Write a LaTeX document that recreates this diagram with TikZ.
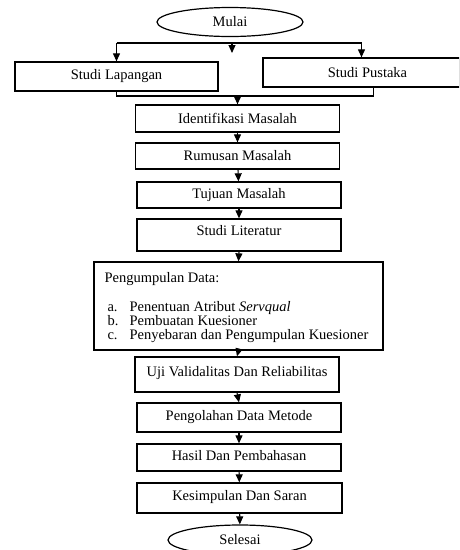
\documentclass[tikz,border=0pt]{standalone}
\usepackage{fontspec}
\setmainfont{Liberation Serif}
\usetikzlibrary{shapes.geometric,arrows.meta,calc}
\begin{document}
\begin{tikzpicture}[x=1pt,y=-1pt,
  font=\fontsize{14.5}{15}\selectfont,
  box/.style={draw, line width=1.3pt, rectangle, inner sep=0pt},
  oval/.style={draw, line width=1.2pt, ellipse, inner sep=0pt},
  arr/.style={line width=1.1pt, -{Triangle[length=8pt,width=7pt]}},
  ln/.style={line width=1.1pt}]
\useasboundingbox (0,0) rectangle (459,550);
\clip (0,0) rectangle (459,550);
\fill[white] (0,0) rectangle (459,550);
% nodes
\node[oval, minimum width=146pt, minimum height=29pt] (mulai) at (230,22) {Mulai};
\node[box, minimum width=203pt, minimum height=29pt] (lap) at (116.5,76.5) {Studi Lapangan};
\node[box, minimum width=197pt, minimum height=29pt] (pus) at (361.5,72.5) {\hspace*{12pt}Studi Pustaka};
\node[box, minimum width=204pt, minimum height=27pt] (idm) at (237.5,118.5) {Identifikasi Masalah};
\node[box, minimum width=204pt, minimum height=26pt] (rum) at (237.5,156) {Rumusan Masalah};
\node[box, minimum width=204pt, minimum height=26pt] (tuj) at (239,195) {Tujuan Masalah};
\node[box, minimum width=204pt, minimum height=32pt, text depth=9pt] (lit) at (239,235) {Studi Literatur};
\node[box, minimum width=289pt, minimum height=88pt] (peng) at (238.5,306) {};
\node[anchor=west, align=left, inner sep=0pt] (pengtxt) at ($(peng.north west)+(11,18)$) {Pengumpulan Data:};
\node[anchor=north west, align=left, inner sep=0pt, font=\fontsize{14.5}{14}\selectfont] (pengitems) at ($(peng.north west)+(14,40)$)
  {\makebox[22pt][l]{a.}Penentuan Atribut \textit{Servqual}\\
   \makebox[22pt][l]{b.}Pembuatan Kuesioner\\
   \makebox[22pt][l]{c.}Penyebaran dan Pengumpulan Kuesioner};
\node[box, minimum width=204pt, minimum height=35pt, text depth=7pt] (uji) at (237,374.5) {Uji Validalitas Dan Reliabilitas};
\node[box, minimum width=204pt, minimum height=29pt, text depth=5pt] (pdm) at (239,417.5) {Pengolahan Data Metode};
\node[box, minimum width=204pt, minimum height=27pt, text depth=5pt] (has) at (239,457.5) {Hasil Dan Pembahasan};
\node[box, minimum width=205pt, minimum height=30pt, text depth=5pt] (kes) at (239.5,498) {Kesimpulan Dan Saran};
\node[oval, minimum width=144pt, minimum height=30pt] (sel) at (240,540) {Selesai};
% connectors
\coordinate (top) at (0,43);
\coordinate (bot) at (0,96);
\coordinate (m1) at (232,53);
\draw[ln] (lap.north |- top) -- (pus.north |- top);
\draw[arr] (lap.north |- top) -- (lap.north);
\draw[arr] (pus.north |- top) -- (pus.north);
\draw[arr] (m1 |- top) -- (m1);
\draw[ln] (lap.south) -- (lap.south |- bot) -- ([xshift=12pt]pus.south |- bot) -- ([xshift=12pt]pus.south);
\draw[arr] (idm.north |- bot) -- (idm.north);
\draw[arr] (idm) -- (rum);
\draw[arr] (rum) -- (tuj);
\draw[arr] (tuj) -- (lit);
\draw[arr] (lit.south) -- (peng.north);
\draw[arr] (peng.south) -- (uji.north);
\draw[arr] (uji.south) -- (pdm.north);
\draw[arr] (pdm) -- (has);
\draw[arr] (has) -- (kes);
\draw[arr] (kes) -- (sel);
\end{tikzpicture}
\end{document}
